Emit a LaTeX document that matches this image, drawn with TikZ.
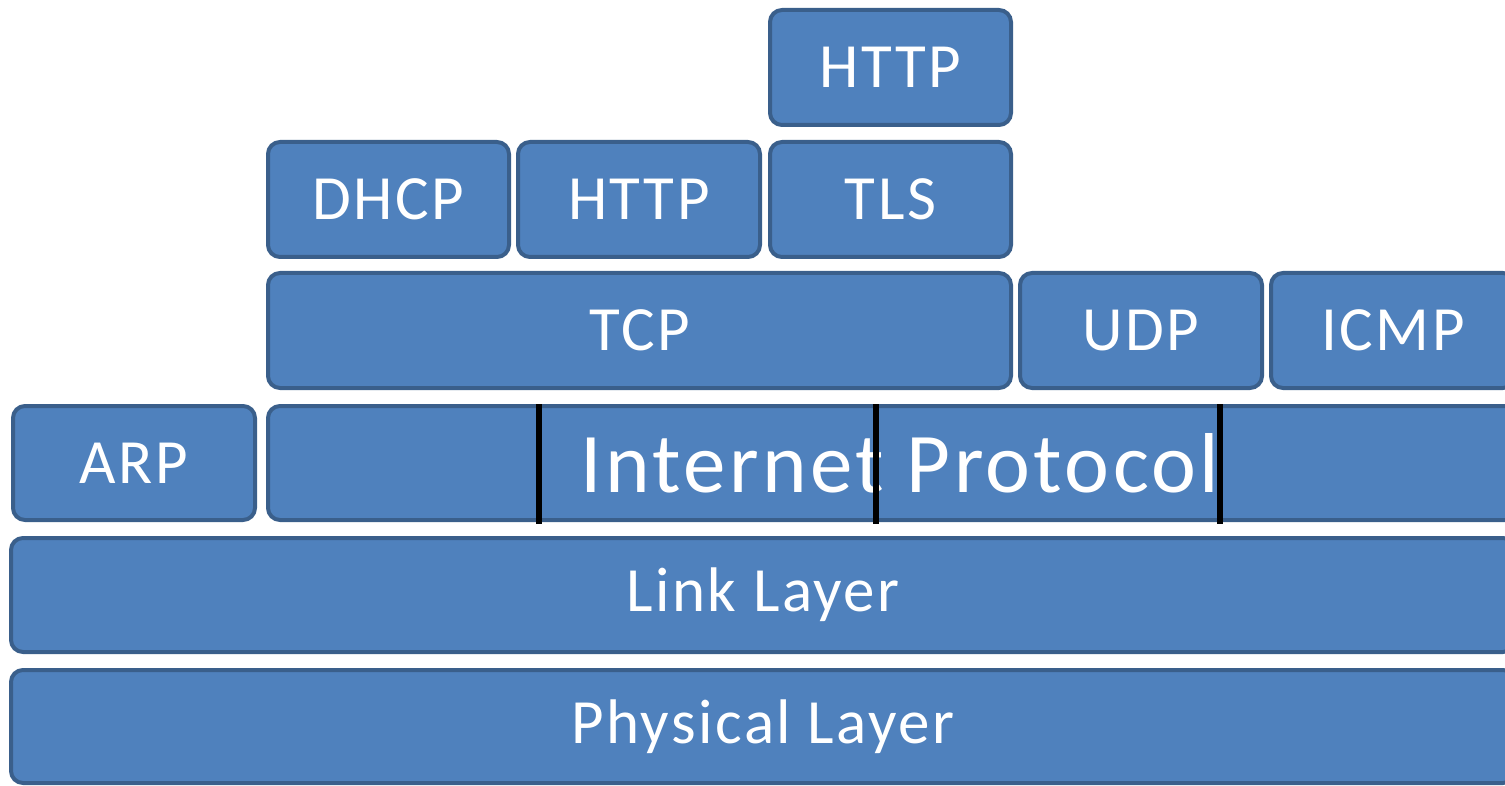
\documentclass[tikz,border=0pt]{standalone}
\usepackage{fontspec}
\setmainfont{Carlito}[LetterSpace=4]
\usetikzlibrary{positioning}

\definecolor{layerfill}{HTML}{4F81BD}
\definecolor{layerline}{HTML}{3A5F8B}

\begin{document}
\begin{tikzpicture}[x=0.5pt,y=-0.5pt,
  layer/.style={rectangle,rounded corners=6pt,fill=layerfill,draw=layerline,line width=2pt,
    text=white,inner sep=0pt,font=\fontsize{31.5}{36}\selectfont},
  divider/.style={black,line width=3.2pt}]

  \useasboundingbox (0,0) rectangle (1505,786);
  \clip (0,0) rectangle (1505,786);

  % application layer
  \node[layer,minimum width=120.5pt,minimum height=57.5pt] (httptls) at (890.5,67.5) {HTTP};
  \node[layer,minimum width=120.5pt,minimum height=57.5pt] (dhcp) at (388.5,199.5) {DHCP};
  \node[layer,minimum width=121pt,minimum height=57.5pt] (http) at (639,199.5) {HTTP};
  \node[layer,minimum width=120.5pt,minimum height=57.5pt] (tls) at (890.5,199.5) {TLS};

  % transport layer
  \node[layer,minimum width=371.5pt,minimum height=57.5pt] (tcp) at (639.5,330.5) {TCP};
  \node[layer,minimum width=121pt,minimum height=57.5pt] (udp) at (1141,330.5) {UDP};
  \node[layer,minimum width=122pt,minimum height=57.5pt] (icmp) at (1393,330.5) {ICMP};

  % network layer
  \node[layer,minimum width=121pt,minimum height=57pt] (arp) at (134,463) {ARP};
  \node[layer,minimum width=632pt,minimum height=57pt,font=\fontsize{42.5}{50}\selectfont] (ip) at (900,463) {Internet Protocol};

  % link and physical
  \node[layer,minimum width=752pt,minimum height=57pt] (link) at (763,595) {Link Layer};
  \node[layer,minimum width=752pt,minimum height=56.5pt] (phys) at (763,726.5) {Physical Layer};

  \foreach \x in {539,876,1220}
    \draw[divider] (\x,404) -- (\x,524);
\end{tikzpicture}
\end{document}
